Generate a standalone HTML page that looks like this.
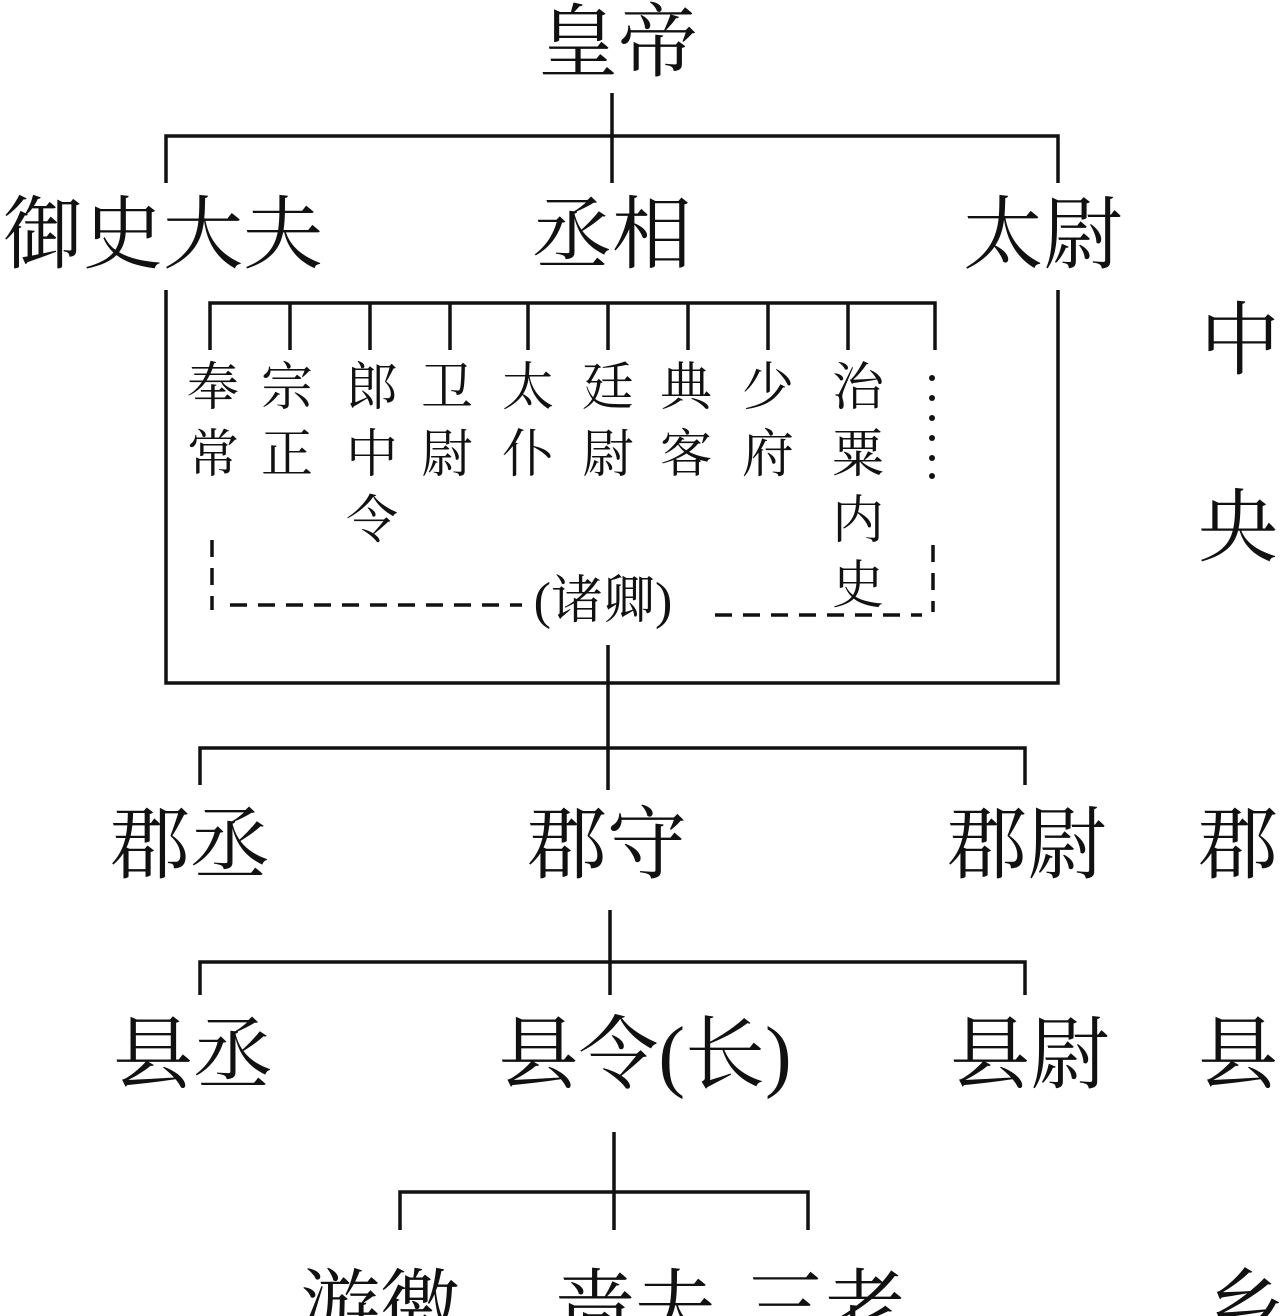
<!DOCTYPE html>
<html><head><meta charset="utf-8"><style>
html,body{margin:0;padding:0;background:#fff;width:1280px;height:1316px;overflow:hidden}
svg{display:block}
text{font-family:"Liberation Serif","Noto Serif CJK SC",serif;fill:#111}
.b{font-size:80px}
.s{font-size:52px}
</style></head><body>
<svg width="1280" height="1316" viewBox="0 0 1280 1316" xmlns="http://www.w3.org/2000/svg">
<g stroke="#111" stroke-width="3.5" fill="none">
<path d="M612 93V183M166 183V136H1058V183"/>
<path d="M166 290V683H1058V290"/>
<path d="M210 350V303H935V350M290 303V350M370 303V350M450 303V350M528 303V350M608 303V350M688 303V350M768 303V350M848 303V350"/>
<path d="M608 645V790M200 785V748H1025V785"/>
<path d="M610 910V995M200 995V962H1025V995"/>
<path d="M614 1132V1230M400 1230V1192H808V1230"/>
</g>
<g stroke="#111" stroke-width="3.5" fill="none" stroke-dasharray="17 11">
<path d="M212 540V610"/>
<path d="M230 605H522"/>
<path d="M715 615H922"/>
<path d="M933 545V612"/>
</g>
<g fill="#111">
<circle cx="932" cy="378" r="3"/><circle cx="932" cy="398" r="3"/><circle cx="932" cy="418" r="3"/><circle cx="932" cy="438" r="3"/><circle cx="932" cy="458" r="3"/><circle cx="932" cy="476" r="3"/>
</g>
<text class="b" x="618" y="70" text-anchor="middle">皇帝</text>
<text class="b" x="163" y="262" text-anchor="middle">御史大夫</text>
<text class="b" x="612" y="262" text-anchor="middle">丞相</text>
<text class="b" x="1043" y="262" text-anchor="middle">太尉</text>
<g class="s" text-anchor="middle">
<text class="s" x="213" y="405">奉</text><text class="s" x="213" y="472">常</text>
<text class="s" x="287" y="405">宗</text><text class="s" x="287" y="472">正</text>
<text class="s" x="372" y="405">郎</text><text class="s" x="372" y="472">中</text><text class="s" x="372" y="538">令</text>
<text class="s" x="447" y="405">卫</text><text class="s" x="447" y="472">尉</text>
<text class="s" x="528" y="405">太</text><text class="s" x="528" y="472">仆</text>
<text class="s" x="608" y="405">廷</text><text class="s" x="608" y="472">尉</text>
<text class="s" x="686" y="405">典</text><text class="s" x="686" y="472">客</text>
<text class="s" x="768" y="405">少</text><text class="s" x="768" y="472">府</text>
<text class="s" x="858" y="405">治</text><text class="s" x="858" y="472">粟</text><text class="s" x="858" y="538">内</text><text class="s" x="858" y="603">史</text>
<text class="s" x="603" y="618">(诸卿)</text>
</g>
<text class="b" x="1240" y="368" text-anchor="middle">中</text>
<text class="b" x="1238" y="555" text-anchor="middle">央</text>
<text class="b" x="190" y="872" text-anchor="middle">郡丞</text>
<text class="b" x="607" y="872" text-anchor="middle">郡守</text>
<text class="b" x="1027" y="872" text-anchor="middle">郡尉</text>
<text class="b" x="1238" y="872" text-anchor="middle">郡</text>
<text class="b" x="193" y="1082" text-anchor="middle">县丞</text>
<text class="b" x="645" y="1082" text-anchor="middle">县令(长)</text>
<text class="b" x="1030" y="1082" text-anchor="middle">县尉</text>
<text class="b" x="1238" y="1082" text-anchor="middle">县</text>
<text class="b" x="380" y="1335" text-anchor="middle">游徼</text>
<text class="b" x="635" y="1335" text-anchor="middle">啬夫</text>
<text class="b" x="825" y="1335" text-anchor="middle">三老</text>
<text class="b" x="1245" y="1335" text-anchor="middle">乡</text>
</svg>
</body></html>
